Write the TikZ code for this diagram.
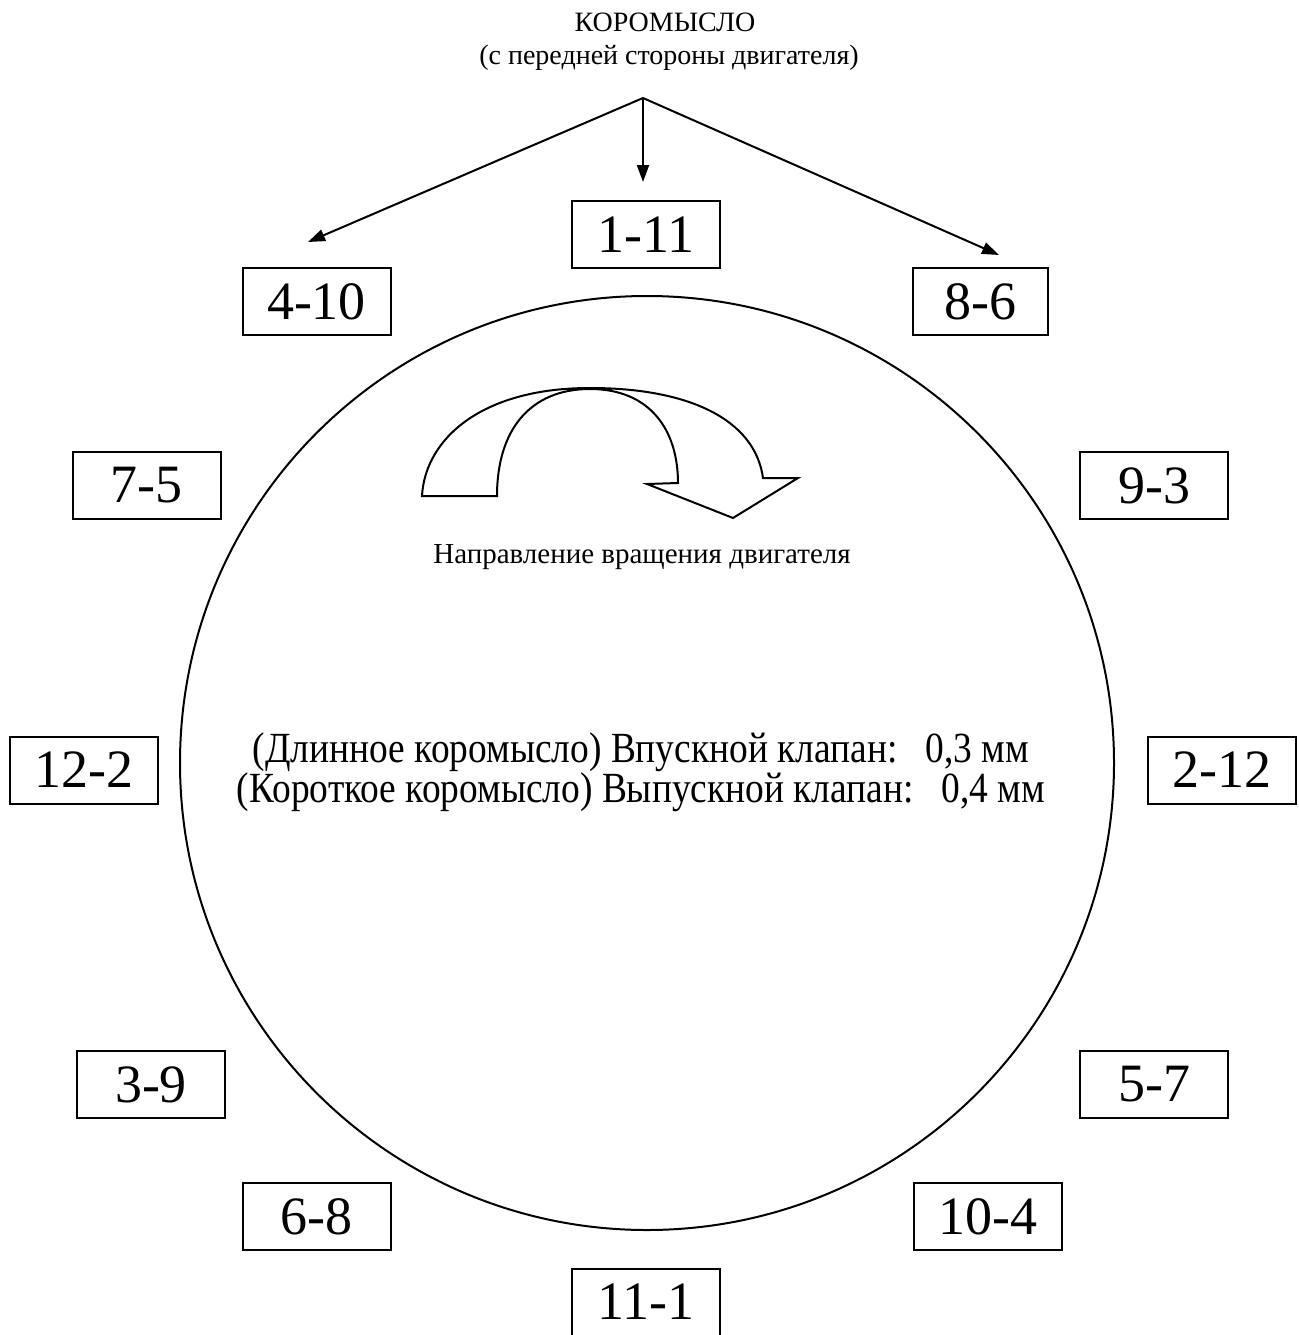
\documentclass[tikz,border=0pt]{standalone}
\usepackage{fontspec}
\setmainfont{Liberation Serif}
\newfontfamily\condfont{Liberation Serif}[FakeStretch=0.87]
\usetikzlibrary{arrows.meta}
\tikzset{
  numbox/.style={draw, line width=2pt, minimum width=148pt, minimum height=67pt, inner sep=0pt,
    font=\fontsize{54}{58}\selectfont},
  line/.style={line width=2pt},
  arr/.style={line width=2pt, -{Triangle[length=17pt,width=12pt]}},
}
\begin{document}
\begin{tikzpicture}[x=1pt,y=-1pt]
\useasboundingbox (0,0) rectangle (1298,1335);
% titles
\node (t1) at (665,22) {\fontsize{28}{30}\selectfont КОРОМЫСЛО};
\node (t2) at (669,58) {\fontsize{28}{30}\selectfont (с передней стороны двигателя)};
\coordinate (src) at (643,98);
\coordinate (tl) at (308,242);
\coordinate (tm) at (643,182);
\coordinate (tr) at (999,255);
\draw[arr] (src) -- (tl);
\draw[arr] (src) -- (tm);
\draw[arr] (src) -- (tr);
% circle
\node (circ) [draw, line width=2pt, circle, minimum size=934pt, inner sep=0pt] at (647,763) {};
% boxes
\node[numbox] (b111) at (646,234.5) {1-11};
\node[numbox] (b410) at (316.5,301.5) {4-10};
\node[numbox, minimum width=135pt] (b86) at (980.5,301.5) {8-6};
\node[numbox] (b75) at (146.5,485.5) {7-5};
\node[numbox] (b93) at (1154,485.5) {9-3};
\node[numbox] (b122) at (84,770) {12-2};
\node[numbox] (b212) at (1222,770) {2-12};
\node[numbox] (b39) at (151,1084.5) {3-9};
\node[numbox] (b57) at (1154,1084.5) {5-7};
\node[numbox] (b68) at (316.5,1216.5) {6-8};
\node[numbox] (b104) at (987.5,1216.5) {10-4};
\node[numbox] (b11) at (646,1302) {11-1};
% rotation arrow
\draw[line, line join=miter] (422,496) -- (497,496)
  .. controls (497,430) and (530,389) .. (590,389)
  .. controls (650,389) and (678,430) .. (678,483)
  -- (647,484) -- (733,518) -- (798,478) -- (763,478)
  .. controls (755,420) and (690,388) .. (590,388)
  .. controls (480,388) and (425,440) .. (422,496) -- cycle;
\node (rot) at (642,557) {\fontsize{29}{31}\selectfont Направление вращения двигателя};
% center text
\node[align=center, font=\condfont\fontsize{43}{38}\selectfont] (ctext) at (641,772)
  {(Длинное коромысло) Впускной клапан:\ \ \ 0,3 мм\\(Короткое коромысло) Выпускной клапан:\ \ \ 0,4 мм};
\end{tikzpicture}
\end{document}
